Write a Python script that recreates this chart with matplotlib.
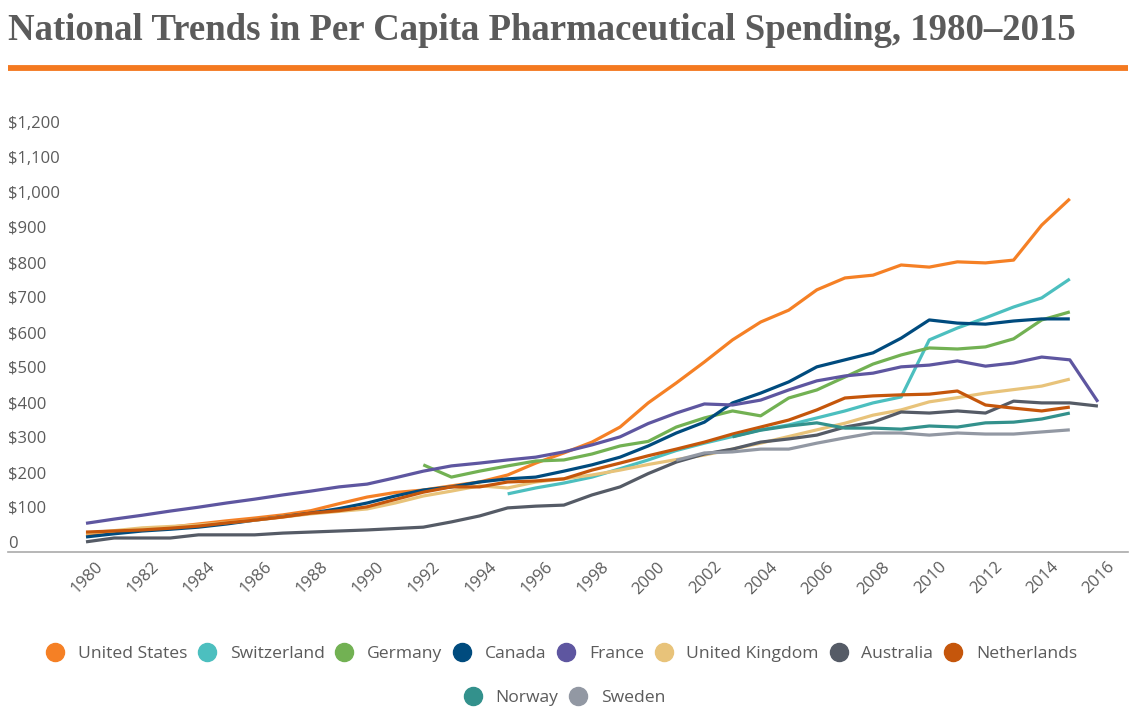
import matplotlib
matplotlib.use("Agg")
import matplotlib.pyplot as plt
from matplotlib.lines import Line2D
from matplotlib.transforms import ScaledTranslation
import numpy as np

# ---------------- data ----------------
years_full = list(range(1980, 2016))          # 1980-2015
years_ext = list(range(1980, 2017))           # 1980-2016

us = [51, 57, 63, 71, 80, 89, 97, 106, 118, 138, 157, 170, 177, 189, 200, 220, 254, 283, 314, 357,
      426, 483, 543, 606, 657, 691, 749, 783, 791, 820, 814, 829, 826, 834, 934, 1009]
switzerland_years = list(range(1995, 2016))
switzerland = [166, 183, 197, 214, 238, 263, 290, 311, 330, 349, 363, 383, 403, 426, 443, 606, 640,
               669, 700, 726, 780]
germany_years = list(range(1992, 2016))
germany = [249, 214, 231, 246, 260, 263, 280, 303, 316, 357, 383, 403, 389, 440, 463, 500, 537, 563,
           583, 580, 586, 609, 663, 686]
canada = [43, 52, 60, 65, 71, 80, 91, 101, 111, 124, 140, 160, 177, 186, 200, 209, 214, 231, 249, 271,
          303, 340, 371, 426, 454, 486, 529, 549, 569, 611, 663, 654, 651, 660, 666, 666]
france = [82, 94, 105, 117, 128, 140, 151, 163, 174, 186, 194, 212, 231, 246, 254, 263, 271, 286, 306,
          329, 367, 397, 423, 420, 434, 463, 489, 503, 511, 529, 534, 546, 531, 540, 557, 549, 429]
uk = [54, 61, 69, 73, 77, 84, 91, 100, 109, 116, 123, 140, 160, 174, 189, 183, 200, 209, 220, 234,
      250, 264, 277, 294, 311, 330, 349, 368, 391, 406, 429, 441, 454, 464, 474, 494]
australia = [29, 40, 40, 40, 49, 49, 49, 54, 57, 60, 63, 67, 71, 86, 103, 126, 131, 134, 163, 186,
             224, 257, 280, 294, 314, 323, 334, 357, 371, 400, 397, 403, 397, 431, 426, 426, 417]
netherlands = [57, 60, 63, 68, 74, 83, 91, 100, 111, 118, 129, 150, 171, 186, 186, 200, 203, 209, 234,
               254, 275, 294, 314, 337, 357, 377, 406, 440, 446, 449, 451, 460, 420, 411, 403, 414]
norway_years = list(range(2003, 2016))
norway = [329, 348, 360, 369, 354, 354, 351, 360, 357, 369, 371, 380, 397]
sweden_years = list(range(2001, 2016))
sweden = [262, 283, 286, 294, 294, 311, 326, 340, 340, 334, 340, 337, 337, 343, 349]

series_names = ["United States", "Switzerland", "Germany", "Canada", "France",
                "United Kingdom", "Australia", "Netherlands", "Norway", "Sweden"]
series_x = [years_full, switzerland_years, germany_years, years_full, years_ext,
            years_full, years_ext, years_full, norway_years, sweden_years]
series_y = [us, switzerland, germany, canada, france, uk, australia, netherlands, norway, sweden]
colors = ["#F58025", "#4CBFBF", "#72B153", "#004B7E", "#5E56A0",
          "#E8C37A", "#555B66", "#C5560B", "#33918C", "#9298A3"]

ytick_vals = list(range(0, 1300, 100))
ytick_labels = ["0"] + ["${:,}".format(v) for v in ytick_vals[1:]]
xtick_vals = list(range(1980, 2017, 2))

title = "National Trends in Per Capita Pharmaceutical Spending, 1980\u20132015"

# ---------------- figure ----------------
W, H = 1138, 721
fig = plt.figure(figsize=(W / 100, H / 100), dpi=100)
fig.patch.set_facecolor("white")

gray = "#5B5B5B"
font = "Open Sans"

ax = fig.add_axes([8 / W, (H - 552) / H, 1120 / W, 437.5 / H])
for nm, xs, ys, c in zip(series_names, series_x, series_y, colors):
    ax.plot(xs, ys, color=c, lw=2.3, solid_joinstyle="round", solid_capstyle="butt", label=nm)

ax.set_xlim(1977.225, 2017.07)
ax.set_ylim(0, 1250)
for s in ["top", "right", "left"]:
    ax.spines[s].set_visible(False)
ax.spines["bottom"].set_color("#AAAAAA")
ax.spines["bottom"].set_linewidth(1.2)

ax.set_yticks(ytick_vals)
ax.set_yticklabels(ytick_labels, fontsize=12, color=gray, family=font)
ax.tick_params(axis="y", length=0, pad=0)
for lab in ax.get_yticklabels():
    lab.set_horizontalalignment("left")
    lab.set_verticalalignment("bottom")

ax.set_xticks(xtick_vals)
ax.set_xticklabels([str(v) for v in xtick_vals], fontsize=12, color=gray, family=font,
                   rotation=45, ha="right", va="top", rotation_mode="anchor")
ax.tick_params(axis="x", length=0, pad=5)
for lab in ax.get_xticklabels():
    lab.set_transform(lab.get_transform() + ScaledTranslation(9 / 100, 0, fig.dpi_scale_trans))

# title
t = fig.text(8 / W, 1 - 40 / H, title, family="Liberation Serif", weight="bold",
             color=gray, fontsize=30, ha="left", va="baseline")
renderer = fig.canvas.get_renderer()
bb = t.get_window_extent(renderer)
t.set_fontsize(30 * 1067 / bb.width)

# orange rule
fig.add_artist(Line2D([8 / W, 1128 / W], [1 - 67.5 / H, 1 - 67.5 / H], color="#F47920",
                      lw=4.2, solid_capstyle="butt", transform=fig.transFigure))

# legend
handles = [Line2D([], [], ls="none", marker="o", ms=13, mfc=c, mec=c) for c in colors]
leg_kw = dict(loc="center", frameon=False, handlelength=0.9, handletextpad=0.85,
              columnspacing=0.68, prop={"family": font, "size": 12.6})
leg1 = fig.legend(handles[:8], series_names[:8], bbox_to_anchor=(562 / W, 67 / H), ncol=8, **leg_kw)
for txt in leg1.get_texts():
    txt.set_color(gray)
leg2 = fig.legend(handles[8:], series_names[8:], bbox_to_anchor=(565 / W, 23 / H), ncol=2, **leg_kw)
for txt in leg2.get_texts():
    txt.set_color(gray)

fig.savefig("out.png", dpi=100, facecolor="white")
